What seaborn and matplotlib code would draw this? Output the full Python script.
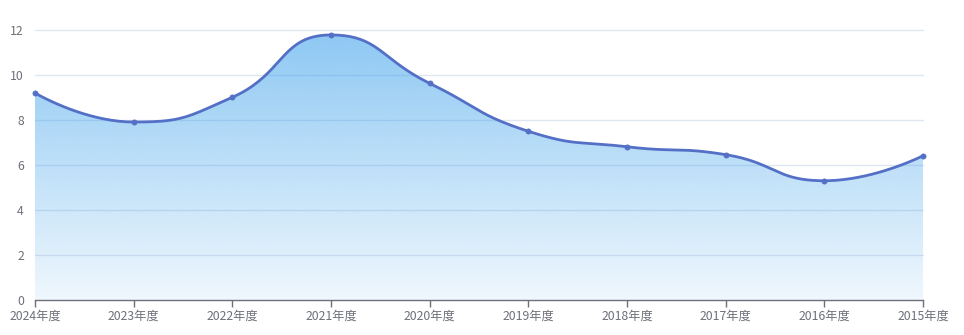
import numpy as np
import pandas as pd
import matplotlib
matplotlib.use("Agg")
import matplotlib.pyplot as plt
import seaborn as sns
from matplotlib.patches import Polygon

categories = ["2024年度", "2023年度", "2022年度", "2021年度", "2020年度",
              "2019年度", "2018年度", "2017年度", "2016年度", "2015年度"]
values = [9.2, 7.91, 9.01, 11.78, 9.63, 7.5, 6.81, 6.46, 5.3, 6.41]
y_ticks = [0, 2, 4, 6, 8, 10, 12]

LINE_COLOR = "#5470c6"
TEXT_COLOR = "#6e7079"
GRID_COLOR = "#e0e6f1"
AREA_RGB = (58 / 255, 160 / 255, 235 / 255)

sns.set_theme(style="white")
plt.rcParams["font.family"] = ["Noto Sans CJK SC", "DejaVu Sans"]

W, H = 964, 335
fig = plt.figure(figsize=(W / 100, H / 100), dpi=100)
left, right, top, bottom = 35, 923, 30, 300
ax = fig.add_axes([left / W, (H - bottom) / H, (right - left) / W, (bottom - top) / H])

n = len(values)
ax.set_xlim(0, n - 1)
ax.set_ylim(0, 12)

# ECharts-style smooth curve, computed in pixel space
sx = (right - left) / (n - 1)
sy = (bottom - top) / 12.0
P = np.array([[i * sx, v * sy] for i, v in enumerate(values)])
smooth = 0.5


def echarts_smooth(pts):
    segs = []
    prev = None
    cp0 = None
    for k in range(len(pts)):
        x, y = pts[k]
        if k == 0:
            cp0 = (x, y)
        else:
            px, py = prev
            if k + 1 >= len(pts):
                cp1 = (x, y)
                ncp0 = None
            else:
                nx, ny = pts[k + 1]
                vx, vy = nx - px, ny - py
                lp = np.hypot(x - px, y - py)
                ln = np.hypot(nx - x, ny - y)
                r = ln / (ln + lp)
                ncx = x + vx * smooth * r
                ncy = y + vy * smooth * r
                ncx = min(ncx, max(nx, x)); ncy = min(ncy, max(ny, y))
                ncx = max(ncx, min(nx, x)); ncy = max(ncy, min(ny, y))
                vx, vy = ncx - x, ncy - y
                c1x = x - vx * lp / ln
                c1y = y - vy * lp / ln
                c1x = min(c1x, max(px, x)); c1y = min(c1y, max(py, y))
                c1x = max(c1x, min(px, x)); c1y = max(c1y, min(py, y))
                vx, vy = x - c1x, y - c1y
                ncx = x + vx * ln / lp
                ncy = y + vy * ln / lp
                cp1 = (c1x, c1y)
                ncp0 = (ncx, ncy)
            segs.append((prev, cp0, cp1, (x, y)))
            cp0 = ncp0
        prev = (x, y)
    out = []
    t = np.linspace(0, 1, 40)[:, None]
    for i, (a, b, c, d) in enumerate(segs):
        a, b, c, d = map(np.array, (a, b, c, d))
        pts_ = ((1 - t) ** 3) * a + 3 * ((1 - t) ** 2) * t * b + 3 * (1 - t) * t ** 2 * c + t ** 3 * d
        out.append(pts_ if i == 0 else pts_[1:])
    return np.vstack(out)


curve = echarts_smooth(P)
curve_df = pd.DataFrame({"x": curve[:, 0] / sx, "y": curve[:, 1] / sy})
df = pd.DataFrame({"x": np.arange(n), "y": values, "cat": categories})

# grid (below the translucent area)
for yt in y_ticks[1:]:
    ax.axhline(yt, color=GRID_COLOR, lw=1, zorder=1, clip_on=False)

# gradient area (translucent)
ymax = max(values)
alpha = np.linspace(0.08, 0.575, 256).reshape(-1, 1)
rgba = np.zeros((256, 1, 4))
rgba[..., 0] = AREA_RGB[0]
rgba[..., 1] = AREA_RGB[1]
rgba[..., 2] = AREA_RGB[2]
rgba[..., 3] = alpha
img = ax.imshow(rgba, extent=[0, n - 1, 0, ymax], origin="lower", aspect="auto",
                zorder=2, interpolation="bilinear")
poly_xy = np.vstack([[curve_df["x"].iloc[0], 0], curve_df[["x", "y"]].values,
                     [curve_df["x"].iloc[-1], 0]])
poly = Polygon(poly_xy, closed=True, transform=ax.transData, facecolor="none", edgecolor="none")
ax.add_patch(poly)
img.set_clip_path(poly)

sns.lineplot(data=curve_df, x="x", y="y", sort=False, ax=ax, color=LINE_COLOR,
             lw=2, zorder=4, clip_on=False, estimator=None)
sns.scatterplot(data=df, x="x", y="y", ax=ax, color=LINE_COLOR, s=14,
                edgecolor=LINE_COLOR, linewidth=0.5, zorder=5, clip_on=False)

ax.set_xticks(np.arange(n))
ax.set_xticklabels(categories)
ax.set_yticks(y_ticks)
ax.set_yticklabels([str(v) for v in y_ticks])
ax.set_xlabel("")
ax.set_ylabel("")
for s in ["top", "right", "left"]:
    ax.spines[s].set_visible(False)
ax.spines["bottom"].set_color(TEXT_COLOR)
ax.spines["bottom"].set_linewidth(1)
ax.spines["bottom"].set_zorder(6)
ax.tick_params(axis="x", colors=TEXT_COLOR, length=5, width=1, direction="out",
               labelsize=8.8, pad=2, bottom=True)
ax.tick_params(axis="y", colors=TEXT_COLOR, length=0, labelsize=8.8, pad=8, left=False)
for lbl in ax.get_xticklabels() + ax.get_yticklabels():
    lbl.set_color(TEXT_COLOR)

fig.savefig("out.png", dpi=100)
